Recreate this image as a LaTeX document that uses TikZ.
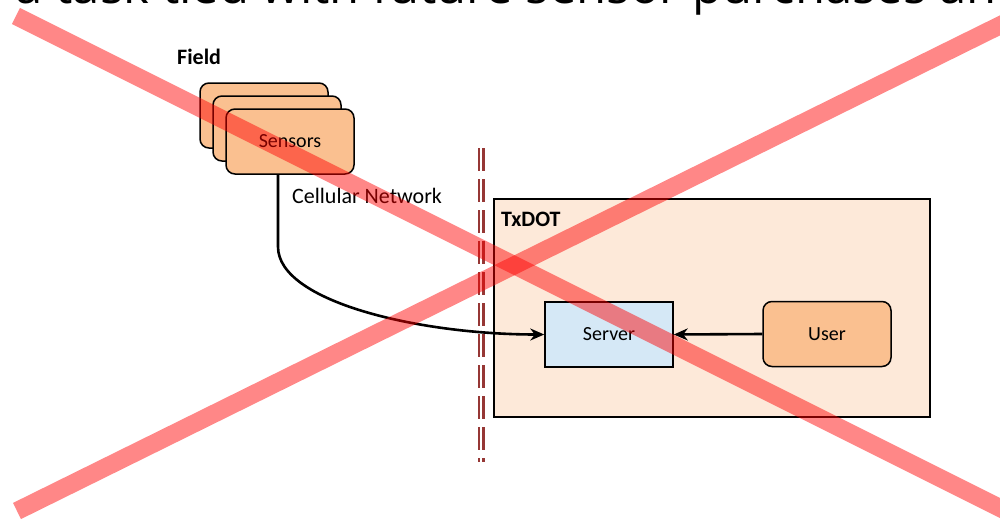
\documentclass[tikz,border=0pt]{standalone}
\usepackage{fontspec}
\setmainfont{Carlito}
\newfontfamily\titlefont{Open Sans}
\usetikzlibrary{arrows.meta,calc}
\definecolor{sensorfill}{RGB}{250,192,144}
\definecolor{txdotfill}{RGB}{253,233,217}
\definecolor{serverfill}{RGB}{213,232,246}
\definecolor{divcol}{RGB}{150,55,53}
\tikzset{
  orangebox/.style={draw=black, line width=1.5pt, fill=sensorfill, rounded corners=9pt,
    minimum width=128pt, minimum height=65pt, inner sep=0pt, font=\fontsize{20}{24}\selectfont},
  serverbox/.style={draw=black, line width=1.5pt, fill=serverfill,
    minimum width=128pt, minimum height=65pt, inner sep=0pt, font=\fontsize{20}{24}\selectfont},
  zonebox/.style={draw=black, line width=1.1pt, fill=txdotfill,
    minimum width=436pt, minimum height=218pt, inner sep=0pt},
  boldlabel/.style={font=\bfseries\fontsize{22}{26}\selectfont, anchor=base west, inner sep=0pt},
  plainlabel/.style={font=\fontsize{22}{26}\selectfont, anchor=base west, inner sep=0pt},
  conn/.style={draw=black, line width=2.6pt, -{Stealth[length=14pt,width=12pt]}},
  divider/.style={draw=divcol, line width=2.5pt, double=white, double distance=2pt,
    dash pattern=on 23pt off 8pt},
  cross/.style={draw=red, draw opacity=0.47, line width=18pt, line cap=butt}
}
\begin{document}
\begin{tikzpicture}[x=1pt,y=-1pt]
\useasboundingbox (0,0) rectangle (1000,519);
\clip (0,0) rectangle (1000,519);
\fill[white] (0,0) rectangle (1000,519);
% title (cut off at top)
\node[font=\titlefont\fontsize{49}{55}\selectfont, anchor=base west, inner sep=0pt] (title) at (-33,4)
  {is a task tied with future sensor purchases and};
% field
\node[boldlabel] (field) at (177,64) {Field};
\node[orangebox] (s1) at (264,115.5) {};
\node[orangebox] (s2) at (277,128.5) {};
\node[orangebox] (s3) at (290,141.5) {Sensors};
\node[plainlabel] (cell) at (292,203) {Cellular Network};
% divider
\coordinate (dtop) at (481,148);
\coordinate (dbot) at (481,462);
\draw[divider] (dtop) -- (dbot);
% TxDOT zone
\node[zonebox] (txdot) at (712,308) {};
\node[boldlabel] (txlabel) at (501,226) {TxDOT};
\node[serverbox] (server) at (609,334.5) {Server};
\node[orangebox] (user) at (827,334) {User};
% connectors
\draw[conn] ([xshift=-12pt]s3.south) -- ++(0,72) .. controls +(0,55) and +(-125,0) .. (server.west);
\draw[conn] (user.west) -- (server.east);
% red cross
\coordinate (xa1) at (16,16);
\coordinate (xa2) at (1040,528);
\coordinate (xb1) at (17,511);
\coordinate (xb2) at (1040,5.6);
\draw[cross] (xa1) -- (xa2);
\draw[cross] (xb1) -- (xb2);
\end{tikzpicture}
\end{document}
